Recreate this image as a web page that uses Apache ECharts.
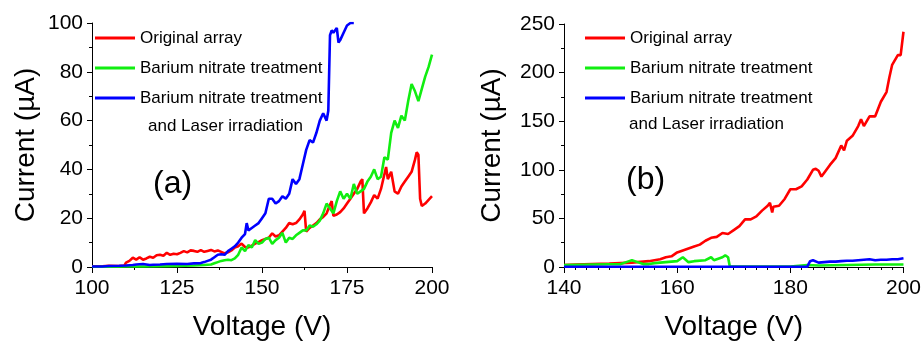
<!DOCTYPE html>
<html><head><meta charset="utf-8">
<script src="https://cdn.jsdelivr.net/npm/echarts@6/dist/echarts.min.js"></script>
<style>html,body{margin:0;padding:0;background:#fff}#c{width:924px;height:346px}</style>
</head><body><div id="c"></div>
<script>
// ---- Panel (a) data: Voltage (V) and Current (µA) ----
var aRedV = [100,103,105,108,109.5,110,111,112,113,114,115,116,117,118,119,120,121,122,123,124,125,126,127,128,129,130,131,132,133,134,135,136,137,138,139,140,141,142,143,144,145,146,147,148,149,150,151,152,153,154,155,156,157,158,159,160,161,162,162.5,163,164,165,166,167,168,169,170,170.5,171,172,173,174,175,176,177,178,179,179.5,180,181,182,183,184,185,186,186.5,187,188,189,190,191,192,193,194,195,195.5,196,196.5,197,198,199,200];
var aRedI = [0.3,0.3,0.5,0.4,0.6,1.8,2.5,3.8,3,4,3,3.5,4.2,3.8,4.8,5,4.6,5.8,5,5.4,5.2,5.8,6.5,6,6.8,6.6,6.2,6.9,6.2,6.6,7,6.4,6.8,6.2,5.6,6,6.8,8,8.5,9.6,8.2,8,8.8,9.6,10.2,11,11.5,12,13.8,12.5,13,14.5,16,18,17.5,18,19.5,21.5,23,14.5,16,17,18,19.5,20.5,22,25.5,27,21,21.5,22.5,24,26,28,30,32,35,36,22,24,26.5,29.5,28,32,38,41,36,39,31,30,33,35,37,39,44,47,46,28,25,26,27.5,29,27.5];
var aGrnV = [100,105,110,115,120,125,130,133,135,136,137,138,139,140,141,142,143,144,145,146,147,148,149,150,151,152,153,154,155,156,157,158,159,160,161,162,163,164,165,166,167,168,169,170,171,172,173,174,175,176,177,178,179,180,181,182,183,184,185,186,187,188,189,190,191,192,193,194,195,196,197,198,199,200];
var aGrnI = [0.1,0.1,0.2,0.2,0.3,0.4,0.6,0.8,1,1.5,2,2.5,2.8,3,2.8,3.5,5,8,6.5,9,8,11,9.5,10,11.5,12,9.5,11,12,14,10,12,11.5,13,14,15,15,17,16.5,17.5,19,22,26,24,22,27,31,28,30,28,34,30,31,32,35,37,40,36,37,45,44,55,60,57,62,60,68,75,72,68,73,78,82,87];
var aBluV = [100,103,105,108,110,112,113,115,117,118,120,122,125,128,130,132,133,134,135,136,137,138,139,140,141,142,143,144,145,145.5,146,147,148,149,150,151,152,153,154,155,156,157,158,159,160,161,162,163,164,165,166,167,168,169,169.5,170,170.5,171,172,172.5,173,174,175,176,177];
var aBluI = [0.2,0.2,0.4,0.5,0.6,0.8,1,1.2,0.8,0.9,1,1.2,1.3,1.2,1.5,1.6,2,2.5,3,4,5,5.2,5,6.5,7.5,8.5,10,12,13.5,18,15,16,17,18,20,22,28,28,26,27,29,28,30,36,34,36,42,48,52,51,55,60,63,60,64,95,97,96,98,92,93,96,99,100,100];

// ---- Panel (b) data ----
var bRedV = [140,142,145,148,150,152,153,155,156,157,158,159,160,161,162,163,164,165,166,167,168,169,170,171,172,173,174,175,176,176.4,176.8,177,178,179,180,181,182,183,184,184.5,185,185.5,186,187,188,189,189.5,190,191,192,192.5,193,194,195,196,197,197.5,198,199,199.5,200];
var bRedI = [2,2.5,3,3.5,4,4.5,5,6,7,8,10,11,15,17,19,21,23,27,30,31,35,34,38,42,49,49,52,58,63,66,56,62,63,70,80,80,83,90,100,101,99,93,97,105,112,125,120,130,135,145,152,145,155,155,170,180,195,208,218,218,242];
var bGrnV = [140,145,148,150,151,152,153,154,155,156,158,160,161,162,163,165,166,166.5,167,168,168.5,169,169.3,170,175,180,183,185,190,195,200];
var bGrnI = [2,2.5,2.8,3,5,7,5,3,3,4,5,6,10,5,6,7,10,7,8,10,12,10,0.5,0.5,0.5,0.5,2,1.5,2,2.5,2.5];
var bBluV = [140,150,160,170,180,183,183.5,184,185,186,187,188,189,190,191,192,193,194,195,196,197,198,199,200];
var bBluI = [0.2,0.2,0.2,0.2,0.2,0.3,6,7,4.5,5,5.5,5.5,6,6.5,6.5,7,7.5,8,7,7.5,7.5,8,8,9];

var seriesNames = ['Original array','Barium nitrate treatment','Barium nitrate treatment '];
var extraLegendLine = 'and Laser irradiation';
var xTicksA = [100,125,150,175,200], yTicksA = [0,20,40,60,80,100];
var xTicksB = [140,160,180,200], yTicksB = [0,50,100,150,200,250];
var colors = ['#ff0000','#11ee11','#0000ff'];

function pairs(v, i){ return v.map(function(x,k){ return [x, i[k]]; }); }

var font = 'Arial, "Liberation Sans", sans-serif';
function xAxis(gi, t, minorSplit){
  return {type:'value', gridIndex:gi, min:t[0], max:t[t.length-1], interval:t[1]-t[0],
    name:'Voltage (V)', nameLocation:'middle', nameGap:46,
    nameTextStyle:{fontSize:28, color:'#000', fontFamily:font},
    axisLine:{onZero:false, lineStyle:{color:'#000', width:1}},
    axisTick:{show:true, length:6, inside:false, lineStyle:{color:'#000'}},
    minorTick:{show:true, splitNumber:minorSplit, length:3, lineStyle:{color:'#000'}},
    axisLabel:{fontSize:21, color:'#000', margin:11, fontFamily:font},
    splitLine:{show:false}};
}
function yAxis(gi, t, gap){
  return {type:'value', gridIndex:gi, min:t[0], max:t[t.length-1], interval:t[1]-t[0],
    name:'Current (\u00b5A)', nameLocation:'middle', nameGap:gap,
    nameTextStyle:{fontSize:28, color:'#000', fontFamily:font},
    axisLine:{show:true, lineStyle:{color:'#000', width:1}},
    axisTick:{show:true, length:5, lineStyle:{color:'#000'}},
    minorTick:{show:true, splitNumber:2, length:3, lineStyle:{color:'#000'}},
    axisLabel:{fontSize:21, color:'#000', margin:9, fontFamily:font},
    splitLine:{show:false}};
}
function line(name, data, gi, c){
  return {type:'line', name:name, xAxisIndex:gi, yAxisIndex:gi, data:data, showSymbol:false,
    symbol:'none', lineStyle:{color:c, width:2.6}, itemStyle:{color:c}, clip:true};
}
function legend(left){
  return {data:seriesNames, orient:'vertical', left:left, top:28, padding:0, itemGap:10,
    icon:'rect', itemWidth:40, itemHeight:3,
    textStyle:{fontSize:17, color:'#000', lineHeight:20, fontFamily:font}, selectedMode:false};
}

var chart = echarts.init(document.getElementById('c'), null, {renderer:'canvas'});
chart.setOption({
  animation:false,
  backgroundColor:'#fff',
  grid:[{left:92, right:492, top:23, bottom:76},{left:564, right:20, top:24, bottom:73}],
  xAxis:[xAxis(0, xTicksA, 2), xAxis(1, xTicksB, 10)],
  yAxis:[yAxis(0, yTicksA, 52), yAxis(1, yTicksB, 58)],
  legend:[legend(95), legend(585)],
  series:[
    line(seriesNames[0], pairs(aRedV,aRedI), 0, colors[0]),
    line(seriesNames[1], pairs(aGrnV,aGrnI), 0, colors[1]),
    line(seriesNames[2], pairs(aBluV,aBluI), 0, colors[2]),
    line(seriesNames[0], pairs(bRedV,bRedI), 1, colors[0]),
    line(seriesNames[1], pairs(bGrnV,bGrnI), 1, colors[1]),
    line(seriesNames[2], pairs(bBluV,bBluI), 1, colors[2])
  ],
  graphic:[
    {type:'text', left:148, top:118, style:{text:extraLegendLine, fontSize:17, fill:'#000', fontFamily:font}},
    {type:'text', left:629, top:116, style:{text:extraLegendLine, fontSize:17, fill:'#000', fontFamily:font}},
    {type:'text', left:153, top:168, style:{text:'(a)', fontSize:32, fill:'#000', fontFamily:font}},
    {type:'text', left:626, top:164, style:{text:'(b)', fontSize:32, fill:'#000', fontFamily:font}}
  ]
});
</script></body></html>
